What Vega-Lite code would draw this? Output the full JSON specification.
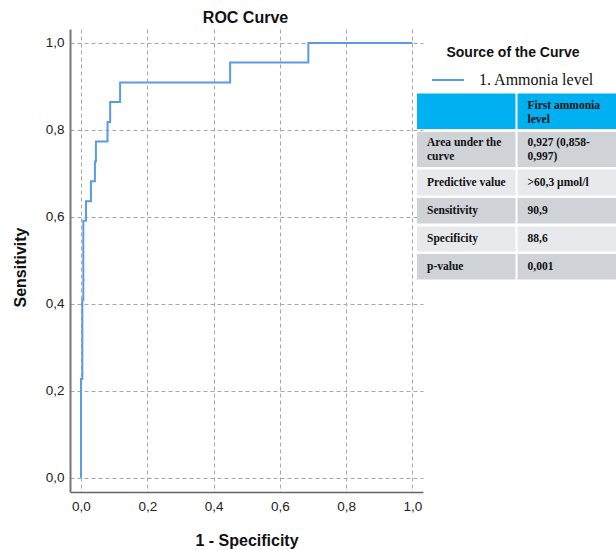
{
  "$schema": "https://vega.github.io/schema/vega-lite/v6.json",
  "padding": {"left": 12, "top": 10, "right": 0, "bottom": 0},
  "background": "white",
  "config": {
    "view": {"stroke": null},
    "font": "Liberation Sans"
  },
  "datasets": {
    "roc": [
      {"fpr": 0, "tpr": 0},
      {"fpr": 0, "tpr": 0.227},
      {"fpr": 0.004, "tpr": 0.227},
      {"fpr": 0.004, "tpr": 0.409},
      {"fpr": 0.007, "tpr": 0.409},
      {"fpr": 0.007, "tpr": 0.591},
      {"fpr": 0.015, "tpr": 0.591},
      {"fpr": 0.015, "tpr": 0.636},
      {"fpr": 0.03, "tpr": 0.636},
      {"fpr": 0.03, "tpr": 0.682},
      {"fpr": 0.042, "tpr": 0.682},
      {"fpr": 0.042, "tpr": 0.727},
      {"fpr": 0.045, "tpr": 0.727},
      {"fpr": 0.045, "tpr": 0.773},
      {"fpr": 0.08, "tpr": 0.773},
      {"fpr": 0.08, "tpr": 0.818},
      {"fpr": 0.088, "tpr": 0.818},
      {"fpr": 0.088, "tpr": 0.864},
      {"fpr": 0.118, "tpr": 0.864},
      {"fpr": 0.118, "tpr": 0.909},
      {"fpr": 0.45, "tpr": 0.909},
      {"fpr": 0.45, "tpr": 0.955},
      {"fpr": 0.686, "tpr": 0.955},
      {"fpr": 0.686, "tpr": 1},
      {"fpr": 1, "tpr": 1}
    ],
    "table": [
      {"row": "header", "col": "label", "text": ""},
      {"row": "header", "col": "value", "text": "First ammonia\nlevel"},
      {"row": "auc", "col": "label", "text": "Area under the\ncurve"},
      {"row": "auc", "col": "value", "text": "0,927 (0,858-\n0,997)"},
      {"row": "pv", "col": "label", "text": "Predictive value"},
      {"row": "pv", "col": "value", "text": ">60,3 µmol/l"},
      {"row": "sens", "col": "label", "text": "Sensitivity"},
      {"row": "sens", "col": "value", "text": "90,9"},
      {"row": "spec", "col": "label", "text": "Specificity"},
      {"row": "spec", "col": "value", "text": "88,6"},
      {"row": "p", "col": "label", "text": "p-value"},
      {"row": "p", "col": "value", "text": "0,001"}
    ]
  },
  "bounds": "flush",
  "spacing": 0,
  "hconcat": [
    {
      "width": 347,
      "height": 463,
      "title": {"text": "ROC Curve", "font": "Liberation Sans", "fontSize": 16, "fontWeight": "bold", "color": "#111", "offset": 3, "anchor": "middle", "frame": "group", "dx": 2},
      "data": {"name": "roc"},
      "mark": {"type": "line", "strokeWidth": 2, "interpolate": "linear"},
      "encoding": {
        "x": {
          "field": "fpr", "type": "quantitative",
          "scale": {"domain": [-0.0332, 1.032], "nice": false, "zero": false, "range": [0, 353]},
          "axis": {
            "title": "1 - Specificity",
            "values": [0, 0.2, 0.4, 0.6, 0.8, 1],
            "labelExpr": "replace(format(datum.value, '.1f'), '.', ',')",
            "labelFont": "Liberation Sans", "labelFontSize": 13.5, "labelColor": "#222",
            "labelPadding": 7, "ticks": false,
            "domainColor": "#666", "domainWidth": 1.5,
            "grid": true, "gridColor": "#a8a8a8", "gridDash": [4, 3], "gridWidth": 1,
            "titleFont": "Liberation Sans", "titleFontSize": 16, "titleFontWeight": "bold", "titleColor": "#111",
            "titlePadding": 20, "titleX": 176.5
          }
        },
        "y": {
          "field": "tpr", "type": "quantitative",
          "scale": {"domain": [-0.033, 1.032], "nice": false, "zero": false},
          "axis": {
            "title": "Sensitivity",
            "values": [0, 0.2, 0.4, 0.6, 0.8, 1],
            "labelExpr": "replace(format(datum.value, '.1f'), '.', ',')",
            "labelFont": "Liberation Sans", "labelFontSize": 13.5, "labelColor": "#222",
            "labelPadding": 6, "ticks": false,
            "domainColor": "#777", "domainWidth": 2,
            "grid": true, "gridColor": "#a8a8a8", "gridDash": [4, 3], "gridWidth": 1,
            "titleFont": "Liberation Sans", "titleFontSize": 16, "titleFontWeight": "bold", "titleColor": "#111",
            "titlePadding": 17, "titleY": 238
          }
        },
        "order": [{"field": "fpr", "type": "quantitative"}, {"field": "tpr", "type": "quantitative"}],
        "color": {
          "datum": "1. Ammonia level",
          "type": "nominal",
          "scale": {"domain": ["1. Ammonia level"], "range": ["#5b9be3"]},
          "legend": {
            "orient": "none", "legendX": 361, "legendY": 17, "padding": 0,
            "title": "Source of the Curve",
            "titleFont": "Liberation Sans", "titleFontSize": 14, "titleFontWeight": "bold", "titleColor": "#111",
            "titleAnchor": "middle", "titleAlign": "center", "titlePadding": 3,
            "symbolType": "stroke", "symbolSize": 1024, "symbolStrokeWidth": 2,
            "labelFont": "Liberation Serif", "labelFontSize": 16, "labelColor": "#111", "labelOffset": 14
          }
        }
      }
    },
    {
      "bounds": "flush",
      "spacing": 2.5,
      "vconcat": [
        {
          "width": 199, "height": 62,
          "data": {"values": []},
          "mark": {"type": "text"},
          "encoding": {}
        },
        {
          "width": 199, "height": 35.5,
          "data": {"name": "table"},
          "transform": [{"filter": "datum.row === 'header'"}],
          "layer": [
            {"mark": {"type": "rect", "fill": "#00b0f0", "stroke": null},
             "encoding": {"x": {"field": "col", "type": "nominal", "scale": {"domain": ["label", "value"], "paddingInner": 0.02, "paddingOuter": 0}, "axis": null}}},
            {"mark": {"type": "text", "align": "left", "baseline": "middle", "dx": 10, "dy": -5, "font": "Liberation Serif", "fontWeight": "bold", "fontSize": 11.5, "color": "#111", "lineBreak": "\n", "lineHeight": 13.5},
             "encoding": {"x": {"field": "col", "type": "nominal", "bandPosition": 0, "axis": null}, "text": {"field": "text"}}}
          ]
        },
        {
          "width": 199, "height": 35,
          "data": {"name": "table"},
          "transform": [{"filter": "datum.row === 'auc'"}],
          "layer": [
            {"mark": {"type": "rect", "fill": "#cfd2d7", "stroke": null},
             "encoding": {"x": {"field": "col", "type": "nominal", "scale": {"domain": ["label", "value"], "paddingInner": 0.02, "paddingOuter": 0}, "axis": null}}},
            {"mark": {"type": "text", "align": "left", "baseline": "middle", "dx": 10, "dy": -6.5, "font": "Liberation Serif", "fontWeight": "bold", "fontSize": 11.5, "color": "#111", "lineBreak": "\n", "lineHeight": 14},
             "encoding": {"x": {"field": "col", "type": "nominal", "bandPosition": 0, "axis": null}, "text": {"field": "text"}}}
          ]
        },
        {
          "width": 199, "height": 26,
          "data": {"name": "table"},
          "transform": [{"filter": "datum.row === 'pv'"}],
          "layer": [
            {"mark": {"type": "rect", "fill": "#e8e9ec", "stroke": null},
             "encoding": {"x": {"field": "col", "type": "nominal", "scale": {"domain": ["label", "value"], "paddingInner": 0.02, "paddingOuter": 0}, "axis": null}}},
            {"mark": {"type": "text", "align": "left", "baseline": "middle", "dx": 10, "font": "Liberation Serif", "fontWeight": "bold", "fontSize": 11.5, "color": "#111"},
             "encoding": {"x": {"field": "col", "type": "nominal", "bandPosition": 0, "axis": null}, "text": {"field": "text"}}}
          ]
        },
        {
          "width": 199, "height": 25.5,
          "data": {"name": "table"},
          "transform": [{"filter": "datum.row === 'sens'"}],
          "layer": [
            {"mark": {"type": "rect", "fill": "#cfd2d7", "stroke": null},
             "encoding": {"x": {"field": "col", "type": "nominal", "scale": {"domain": ["label", "value"], "paddingInner": 0.02, "paddingOuter": 0}, "axis": null}}},
            {"mark": {"type": "text", "align": "left", "baseline": "middle", "dx": 10, "font": "Liberation Serif", "fontWeight": "bold", "fontSize": 11.5, "color": "#111"},
             "encoding": {"x": {"field": "col", "type": "nominal", "bandPosition": 0, "axis": null}, "text": {"field": "text"}}}
          ]
        },
        {
          "width": 199, "height": 25,
          "data": {"name": "table"},
          "transform": [{"filter": "datum.row === 'spec'"}],
          "layer": [
            {"mark": {"type": "rect", "fill": "#e8e9ec", "stroke": null},
             "encoding": {"x": {"field": "col", "type": "nominal", "scale": {"domain": ["label", "value"], "paddingInner": 0.02, "paddingOuter": 0}, "axis": null}}},
            {"mark": {"type": "text", "align": "left", "baseline": "middle", "dx": 10, "font": "Liberation Serif", "fontWeight": "bold", "fontSize": 11.5, "color": "#111"},
             "encoding": {"x": {"field": "col", "type": "nominal", "bandPosition": 0, "axis": null}, "text": {"field": "text"}}}
          ]
        },
        {
          "width": 199, "height": 25.5,
          "data": {"name": "table"},
          "transform": [{"filter": "datum.row === 'p'"}],
          "layer": [
            {"mark": {"type": "rect", "fill": "#cfd2d7", "stroke": null},
             "encoding": {"x": {"field": "col", "type": "nominal", "scale": {"domain": ["label", "value"], "paddingInner": 0.02, "paddingOuter": 0}, "axis": null}}},
            {"mark": {"type": "text", "align": "left", "baseline": "middle", "dx": 10, "font": "Liberation Serif", "fontWeight": "bold", "fontSize": 11.5, "color": "#111"},
             "encoding": {"x": {"field": "col", "type": "nominal", "bandPosition": 0, "axis": null}, "text": {"field": "text"}}}
          ]
        }
      ]
    }
  ]
}
